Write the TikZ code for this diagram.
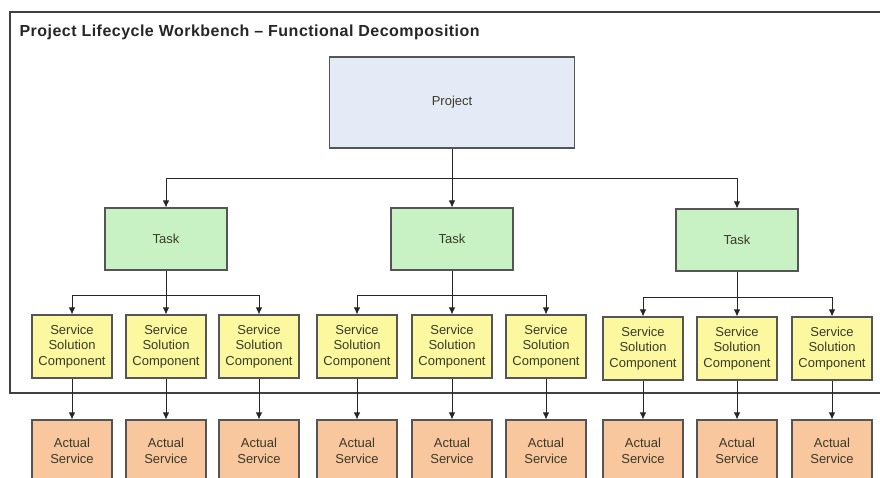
\documentclass[tikz,border=0pt]{standalone}
\usepackage{fontspec}
\setmainfont{Liberation Sans}
\usetikzlibrary{arrows.meta}
\definecolor{projfill}{HTML}{E4EAF6}
\definecolor{taskfill}{HTML}{C8F2C4}
\definecolor{sscfill}{HTML}{FBF8A0}
\definecolor{actfill}{HTML}{F8C79E}
\definecolor{edge}{HTML}{555555}
\definecolor{txt}{HTML}{3A3A2A}
\tikzset{
  box/.style={draw=edge, line width=1.1pt, inner sep=0pt, align=center, text=txt, font=\fontsize{13}{15.5}\selectfont},
  projbox/.style={box, fill=projfill, minimum width=245pt, minimum height=91pt},
  taskbox/.style={box, fill=taskfill, minimum width=122pt, minimum height=62pt},
  sscbox/.style={box, fill=sscfill, minimum width=80pt, minimum height=63pt},
  actbox/.style={box, fill=actfill, minimum width=80pt, minimum height=62pt},
  arr/.style={draw=black!85, line width=0.9pt, -{Latex[length=7pt,width=6.5pt]}},
  ln/.style={draw=black!85, line width=0.9pt}
}
\begin{document}
\begin{tikzpicture}[x=1pt,y=-1pt]
\useasboundingbox (0,0) rectangle (880,478);
\clip (0,0) rectangle (880,478);
\fill[white] (0,0) rectangle (880,478);
% frame
\draw[draw=black!75, line width=1.3pt] (900,12) -- (10,12) -- (10,393) -- (900,393);
\node[anchor=west, font=\bfseries\fontsize{16}{18}\selectfont\addfontfeatures{LetterSpace=3}, text=black!85] (title) at (16,32) {Project Lifecycle Workbench -- Functional Decomposition};
% project
\node[projbox] (proj) at (452,102.5) {Project};
% tasks
\node[taskbox] (t1) at (166,239) {Task};
\node[taskbox] (t2) at (452,239) {Task};
\node[taskbox] (t3) at (737,240) {Task};
\coordinate (j0) at (452,178);
\draw[ln] (proj.south) -- (j0);
\draw[arr] (j0) -| (t1.north);
\draw[arr] (j0) -- (t2.north);
\draw[arr] (j0) -| (t3.north);
% SSC + actual
\foreach \i/\x/\dy in {1/72/0, 2/166/0, 3/259/0, 4/357/0, 5/452/0, 6/546/0, 7/643/2, 8/737/2, 9/832/2}{
  \node[sscbox] (s\i) at (\x,346.5+\dy) {Service\\Solution\\Component};
  \node[actbox] (a\i) at (\x,451) {Actual\\Service};
  \draw[arr] (s\i.south) -- (a\i.north);
}
\coordinate (j1) at (166,295);
\coordinate (j2) at (452,295);
\coordinate (j3) at (737,297);
\draw[ln] (t1.south) -- (j1);
\draw[ln] (t2.south) -- (j2);
\draw[ln] (t3.south) -- (j3);
\draw[arr] (j1) -| (s1.north);
\draw[arr] (j1) -- (s2.north);
\draw[arr] (j1) -| (s3.north);
\draw[arr] (j2) -| (s4.north);
\draw[arr] (j2) -- (s5.north);
\draw[arr] (j2) -| (s6.north);
\draw[arr] (j3) -| (s7.north);
\draw[arr] (j3) -- (s8.north);
\draw[arr] (j3) -| (s9.north);
\end{tikzpicture}
\end{document}
